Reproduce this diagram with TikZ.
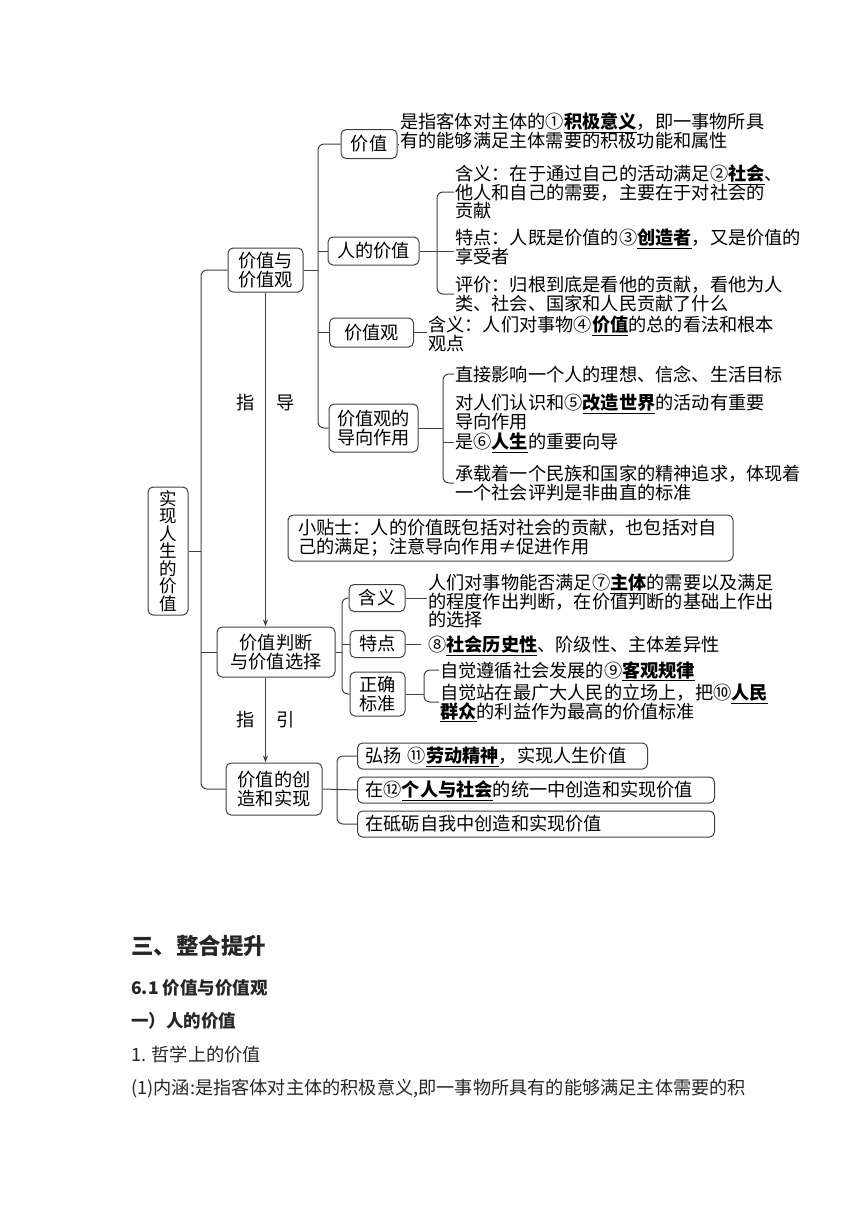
\documentclass[tikz,border=0pt]{standalone}
\usepackage{fontspec}
\setmainfont{Noto Sans CJK SC}
\usetikzlibrary{arrows.meta}
\newsavebox{\kwbox}
\newcommand{\kw}[1]{\sbox{\kwbox}{\textbf{#1}}\rlap{\smash{\rule[-4pt]{\wd\kwbox}{0.9pt}}}\usebox{\kwbox}}

\begin{document}
\begin{tikzpicture}[x=1pt,y=-1pt,font=\fontsize{18.2}{18.6}\selectfont,
  box/.style={draw=black!75,line width=1pt,rounded corners=5pt,align=center,inner sep=2pt},
  itembox/.style={box,anchor=west,align=left,minimum height=26,inner xsep=8pt},
  txt/.style={anchor=west,align=left,inner sep=1pt},
  link/.style={draw=black!75,line width=1pt},
  brace/.style={link,rounded corners=6pt},
  head/.style={anchor=west,inner sep=0pt,text=black!85}]
  \useasboundingbox (0,0) rectangle (860,1216);
  \node[box,minimum width=40,minimum height=128,font=\fontsize{17.5}{17.5}\selectfont] (root) at (168,551) {实\\现\\人\\生\\的\\价\\值};
  \node[box,minimum width=75,minimum height=44] (gz) at (265.5,270) {价值与\\价值观};
  \node[box,minimum width=118,minimum height=50] (pd) at (276,652) {价值判断\\与价值选择};
  \node[box,minimum width=96,minimum height=52] (cz) at (274,789) {价值的创\\造和实现};

  \node[box,minimum width=56,minimum height=29] (jz) at (369,144) {价值};
  \node[box,minimum width=91,minimum height=28] (rj) at (373.5,251) {人的价值};
  \node[box,minimum width=84,minimum height=29] (jzg) at (371.5,332.5) {价值观};
  \node[box,minimum width=89,minimum height=48] (dx) at (373.5,428) {价值观的\\导向作用};

  \node[txt] (jzt) at (399,131) {是指客体对主体的①\kw{积极意义}，即一事物所具\\有的能够满足主体需要的积极功能和属性};
  \node[txt] (rj1) at (454,192) {含义：在于通过自己的活动满足②\kw{社会}、\\他人和自己的需要，主要在于对社会的\\贡献};
  \node[txt] (rj2) at (454,247) {特点：人既是价值的③\kw{创造者}，又是价值的\\享受者};
  \node[txt] (rj3) at (454,294) {评价：归根到底是看他的贡献，看他为人\\类、社会、国家和人民贡献了什么};
  \node[txt] (jzgt) at (427,334) {含义：人们对事物④\kw{价值}的总的看法和根本\\观点};
  \node[txt] (dx1) at (454,374) {直接影响一个人的理想、信念、生活目标};
  \node[txt] (dx2) at (454,412) {对人们认识和⑤\kw{改造世界}的活动有重要\\导向作用};
  \node[txt] (dx3) at (454,442) {是⑥\kw{人生}的重要向导};
  \node[txt] (dx4) at (454,483) {承载着一个民族和国家的精神追求，体现着\\一个社会评判是非曲直的标准};

  \node[box,text width=425,align=left,minimum height=46,inner xsep=10pt,inner ysep=4pt] (tip) at (510.5,538) {小贴士：人的价值既包括对社会的贡献，也包括对自\\己的满足；注意导向作用≠促进作用};

  \node[box,minimum width=56,minimum height=27] (hy) at (377,598) {含义};
  \node[box,minimum width=55,minimum height=27] (td) at (377.5,644) {特点};
  \node[box,minimum width=55,minimum height=44] (bz) at (377.5,694) {正确\\标准};
  \node[txt] (hyt) at (427,601) {人们对事物能否满足⑦\kw{主体}的需要以及满足\\的程度作出判断，在价值判断的基础上作出\\的选择};
  \node[txt] (tdt) at (427,645) {⑧\kw{社会历史性}、阶级性、主体差异性};
  \node[txt] (bz1) at (439,670) {自觉遵循社会发展的⑨\kw{客观规律}};
  \node[txt] (bz2) at (439,702) {自觉站在最广大人民的立场上，把⑩\kw{人民}\\\kw{群众}的利益作为最高的价值标准};

  \node[itembox,text width=274] (cz1) at (357,756) {弘扬 ⑪\kw{劳动精神}，实现人生价值};
  \node[itembox,text width=341] (cz2) at (357,790) {在⑫\kw{个人与社会}的统一中创造和实现价值};
  \node[itembox,text width=341] (cz3) at (357,824) {在砥砺自我中创造和实现价值};

  \coordinate (t) at (201,0);
  \draw[brace] (gz.west) -- (gz.west -| t) -- (cz.west -| t) -- (cz.west);
  \draw[link] (root.east) -- (root.east -| t);
  \draw[link] (pd.west) -- (pd.west -| t);

  \coordinate (b1) at (318,0);
  \draw[brace] (jz.west) -- (jz.west -| b1) -- (dx.west -| b1) -- (dx.west);
  \draw[link] (gz.east) -- (gz.east -| b1);
  \draw[link] (rj.west) -- (rj.west -| b1);
  \draw[link] (jzg.west) -- (jzg.west -| b1);
  \draw[link] (jz.east) -- (jz.east -| jzt.west);
  \draw[link] (jzg.east) -- (jzg.east -| jzgt.west);

  \coordinate (b2) at (437,0);
  \draw[brace] (rj1.west) -- (rj1.west -| b2) -- (rj3.west -| b2) -- (rj3.west);
  \draw[link] (rj.east) -- (rj.east -| rj2.west);
  \coordinate (b3) at (443,0);
  \draw[brace] (dx1.west) -- (dx1.west -| b3) -- (dx4.west -| b3) -- (dx4.west);
  \draw[link] (dx.east) -- (dx.east -| b3);
  \draw[link] (dx3.west -| b3) -- (dx3.west);

  \coordinate (b4) at (342,0);
  \draw[brace] (hy.west) -- (hy.west -| b4) -- (bz.west -| b4) -- (bz.west);
  \draw[link] (pd.east) -- (pd.east -| b4);
  \draw[link] (td.west) -- (td.west -| b4);
  \draw[link] (hy.east) -- (hy.east -| hyt.west);
  \draw[link] (td.east) -- ([xshift=-6pt]td.east -| tdt.west);
  \coordinate (b5) at (424,0);
  \draw[brace] (bz1.west) -- (bz1.west -| b5) -- (bz2.west -| b5) -- (bz2.west);
  \draw[link] (bz.east) -- (bz.east -| b5);

  \coordinate (b6) at (337,0);
  \draw[brace] (cz1.west) -- (cz1.west -| b6) -- (cz3.west -| b6) -- (cz3.west);
  \draw[link] (cz.east) -- (cz2.west);

  \draw[link,-{Stealth[length=7pt,width=5pt]}] (gz.south) -- (gz.south |- pd.north)
    node[pos=0.33,left=7pt] {指} node[pos=0.33,right=7pt] {导};
  \draw[link,-{Stealth[length=7pt,width=5pt]}] (pd.south -| gz.south) -- (cz.north -| gz.south)
    node[pos=0.5,left=7pt] {指} node[pos=0.5,right=7pt] {引};

  \node[head,font=\fontsize{22.5}{24}\selectfont\bfseries] (h3) at (131,946) {三、整合提升};
  \node[head,font=\fontsize{17.5}{19}\selectfont\bfseries] (h61) at (131,988) {6.1 价值与价值观};
  \node[head,font=\fontsize{17.5}{19}\selectfont\bfseries] (h1) at (131,1021) {一）人的价值};
  \node[head] (p1) at (131,1055) {1. 哲学上的价值};
  \node[head] (p2) at (131,1089) {(1)内涵:是指客体对主体的积极意义,即一事物所具有的能够满足主体需要的积};
\end{tikzpicture}
\end{document}
